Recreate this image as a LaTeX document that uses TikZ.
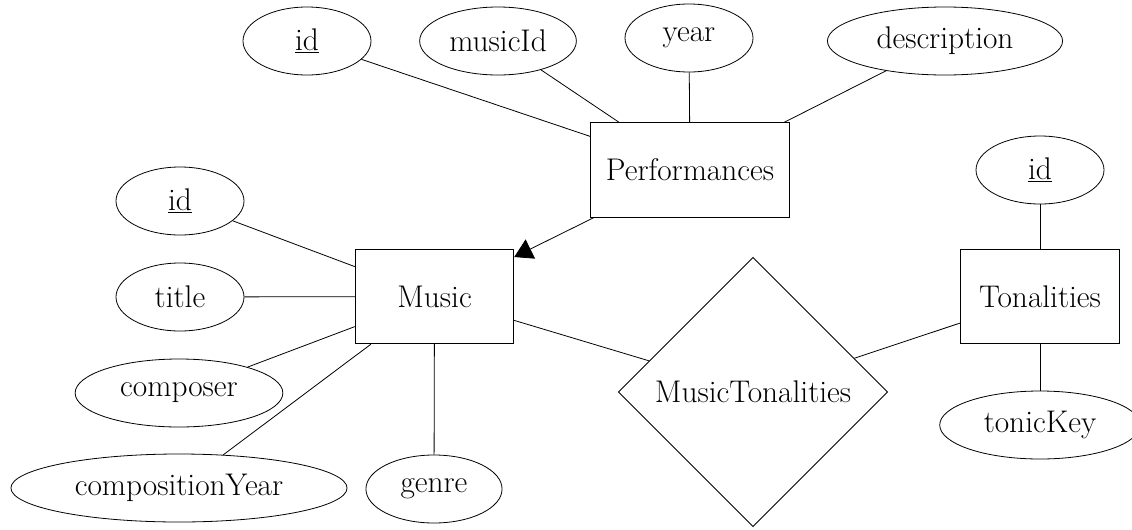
\documentclass[tikz,border=0pt]{standalone}
\usetikzlibrary{shapes.geometric,arrows.meta}
\tikzset{
  attr/.style={draw,ellipse,minimum width=96pt,minimum height=51pt,inner xsep=11pt,inner ysep=2pt},
  entity/.style={draw,rectangle,minimum width=119pt,minimum height=71pt,inner xsep=11.5pt},
  relation/.style={draw,diamond,minimum width=202pt,minimum height=202pt,inner sep=0pt}
}
\begin{document}
\begin{tikzpicture}[x=0.75pt,y=-0.75pt,line width=0.6pt,font=\fontsize{23.5}{28}\selectfont]
\useasboundingbox (0,0) rectangle (1132,529);
\node[entity] (perf) at (690,170) {Performances};
\node[entity] (music) at (434.5,296.5) {Music};
\node[entity] (tonal) at (1040,296.5) {Tonalities};
\node[relation] (musictonal) at (753,392) {\makebox[0pt]{MusicTonalities}};
\node[attr] (perfid) at (307,41) {\underline{id}};
\node[attr,inner xsep=5pt] (perfmusicid) at (498,41) {musicId};
\node[attr] (perfyear) at (689,38) {year};
\node[attr] (perfdesc) at (945,41) {description};
\node[attr] (musicid) at (180,201) {\underline{id}};
\node[attr] (musictitle) at (180,297) {title};
\node[attr] (musiccomposer) at (179,393) {composer};
\node[attr] (musicyear) at (179,488) {compositionYear};
\node[attr] (musicgenre) at (434,489) {genre};
\node[attr] (tonalid) at (1040,170) {\underline{id}};
\node[attr] (tonalkey) at (1040,425) {tonicKey};
\draw (perfid) -- (perf);
\draw (perfmusicid) -- (perf);
\draw (perfyear) -- (perf);
\draw (perfdesc) -- (perf);
\draw[-{Triangle[length=13.5pt,width=16pt]}] (perf) -- (music);
\draw (musicid) -- (music);
\draw (musictitle) -- (music);
\draw (musiccomposer) -- (music);
\draw (musicyear) -- (music);
\draw (musicgenre) -- (music);
\draw (music) -- (musictonal);
\draw (musictonal) -- (tonal);
\draw (tonalid) -- (tonal);
\draw (tonalkey) -- (tonal);
\end{tikzpicture}
\end{document}
